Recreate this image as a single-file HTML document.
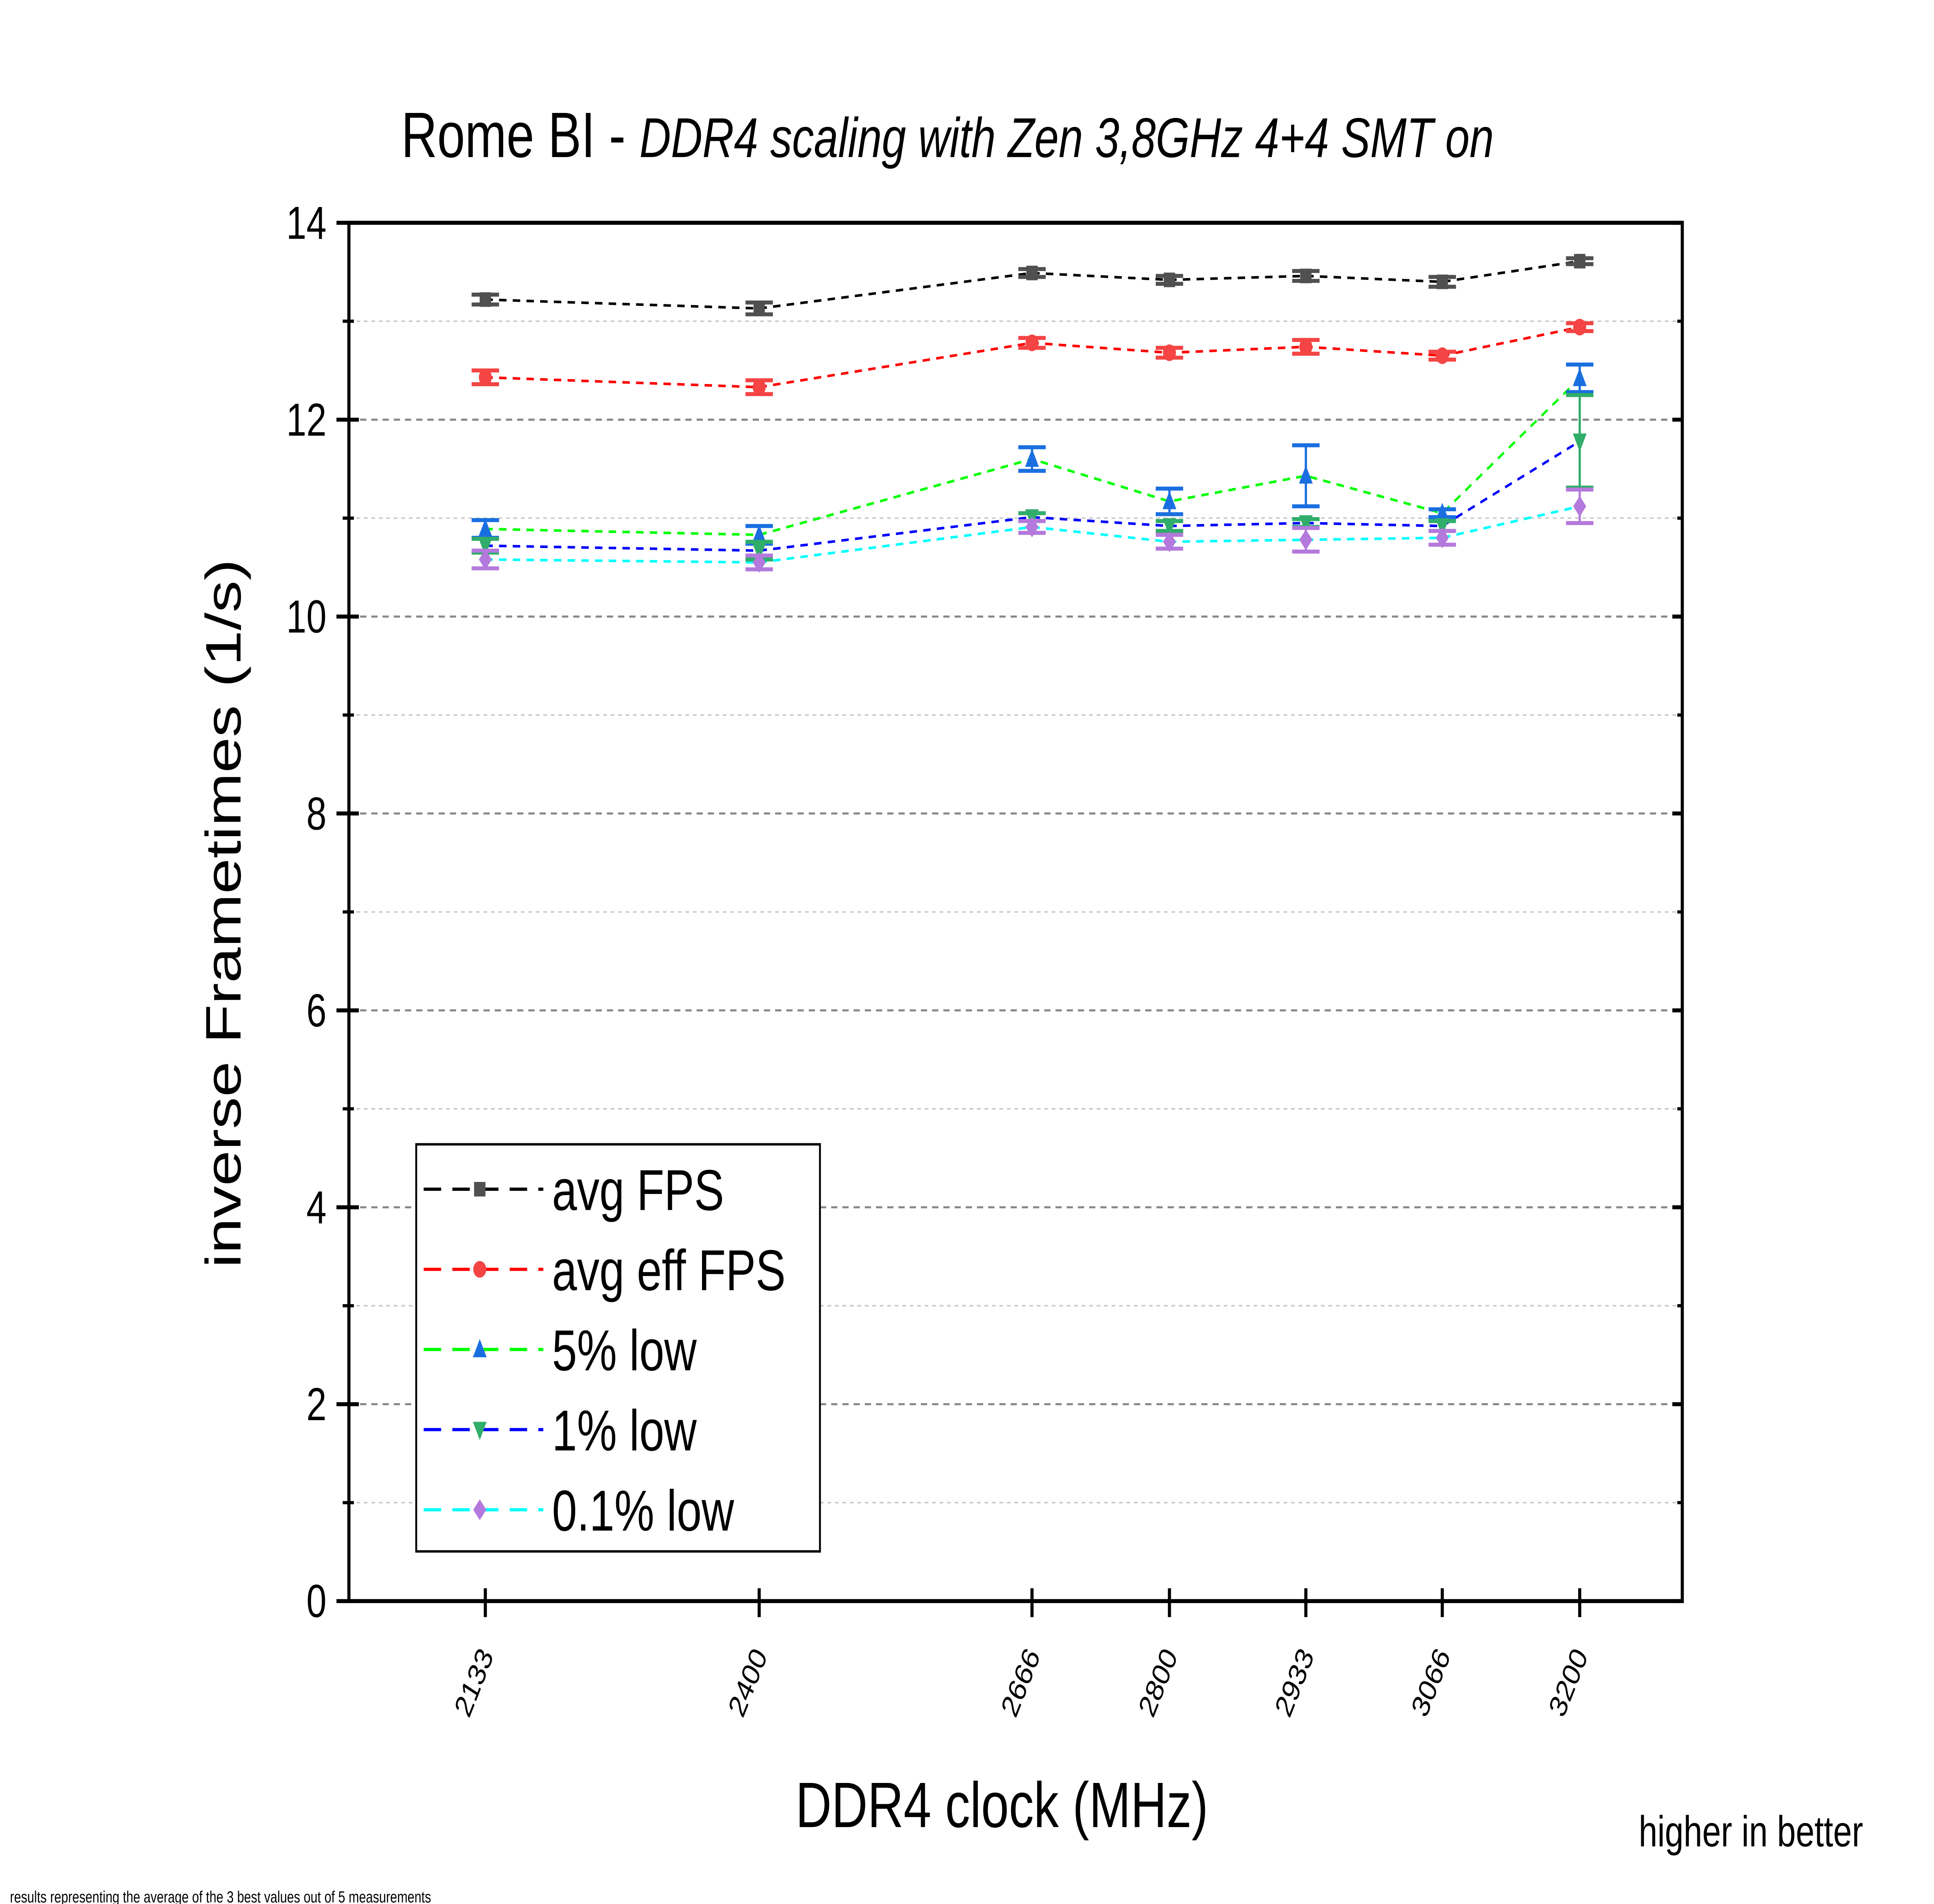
<!DOCTYPE html>
<html><head><meta charset="utf-8"><style>
html,body{margin:0;padding:0;background:#fff;width:100%;height:100%;overflow:hidden;}
svg{display:block;font-family:"Liberation Sans",Arial,sans-serif;width:100vw;height:100vh;}
</style></head><body>
<svg id="chart" viewBox="0 0 1552 1188" preserveAspectRatio="none" xmlns="http://www.w3.org/2000/svg">
<rect width="1552" height="1188" fill="#fff"/>
<text x="322" y="98" font-size="40">Rome BI - <tspan font-style="italic" font-size="35">DDR4 scaling with Zen 3,8GHz 4+4 SMT on</tspan></text>
<g id="grid"></g>
<g id="series"></g>
<rect x="280" y="139" width="1070" height="860" fill="none" stroke="#000" stroke-width="2.5"/>
<g id="axes"></g>
<text transform="translate(193,570) rotate(-90)" text-anchor="middle" font-size="40">inverse Frametimes (1/s)</text>
<text x="804" y="1140" text-anchor="middle" font-size="40">DDR4 clock (MHz)</text>
<text x="1315" y="1152" font-size="27">higher in better</text>
<text x="8" y="1187" font-size="10">results representing the average of the 3 best values out of 5 measurements</text>
<g id="legend"></g>
<script>
const categories = [2133, 2400, 2666, 2800, 2933, 3066, 3200];
const avgFps = [13.22, 13.13, 13.49, 13.42, 13.46, 13.40, 13.61];
const avgFpsErr = [0.05, 0.06, 0.04, 0.04, 0.05, 0.05, 0.03];
const avgEffFps = [12.43, 12.33, 12.78, 12.68, 12.74, 12.65, 12.94];
const avgEffFpsErr = [0.07, 0.07, 0.05, 0.05, 0.07, 0.04, 0.04];
const low5 = [10.89, 10.83, 11.60, 11.17, 11.43, 11.05, 12.42];
const low5Err = [0.09, 0.09, 0.12, 0.13, 0.31, 0.04, 0.14];
const low1 = [10.72, 10.67, 11.01, 10.92, 10.95, 10.92, 11.78];
const low1Err = [0.07, 0.09, 0.04, 0.05, 0.04, 0.05, 0.47];
const low01 = [10.58, 10.55, 10.91, 10.76, 10.78, 10.80, 11.12];
const low01Err = [0.09, 0.07, 0.06, 0.07, 0.12, 0.07, 0.17];
const yTicks = [0, 2, 4, 6, 8, 10, 12, 14];
const seriesNames = ["avg FPS", "avg eff FPS", "5% low", "1% low", "0.1% low"];

const NS = "http://www.w3.org/2000/svg";
const X0 = 280, X1 = 1350, Y0 = 999, Y1 = 139;
const xMin = 2000, xMax = 3300, yMin = 0, yMax = 14;
function xs(v){ return X0 + (v - xMin) / (xMax - xMin) * (X1 - X0); }
function ys(v){ return Y0 - (v - yMin) / (yMax - yMin) * (Y0 - Y1); }
function mk(tag, attrs, parent){
  const e = document.createElementNS(NS, tag);
  for (const k in attrs) e.setAttribute(k, attrs[k]);
  parent.appendChild(e); return e;
}
const grid = document.getElementById('grid');
const axes = document.getElementById('axes');
const series = document.getElementById('series');
const legend = document.getElementById('legend');

for (let v = 1; v < 14; v++) {
  const major = v % 2 === 0;
  const l = mk('line', {x1:X0, x2:X1, y1:ys(v), y2:ys(v), stroke: major ? '#888' : '#ccc', 'stroke-width': major ? 1.3 : 1, 'stroke-dasharray': major ? '5,4' : '3,3'}, grid);
  
  
}
yTicks.forEach(v => {
  const y = ys(v);
  const t1 = mk('line', {x1:X0-10, x2:X0+8, y1:y, y2:y, stroke:'#000', 'stroke-width':2.5}, axes);
  
  
  const t2 = mk('line', {x1:X1-8, x2:X1, y1:y, y2:y, stroke:'#000', 'stroke-width':2.5}, axes);
  
  
  const tx = mk('text', {x:X0-18, y:y+10, 'text-anchor':'end', 'font-size':29}, axes);
  tx.textContent = v;
  
  
});
for (let v = 1; v < 14; v += 2) {
  const y = ys(v);
  const m = mk('line', {x1:X0-5, x2:X0+4, y1:y, y2:y, stroke:'#000', 'stroke-width':2}, axes);
  
  
  const m2 = mk('line', {x1:X1-4, x2:X1, y1:y, y2:y, stroke:'#000', 'stroke-width':2}, axes);
  
  
}
categories.forEach(c => {
  const x = xs(c);
  const t = mk('line', {x1:x, x2:x, y1:Y0-8, y2:Y0+10, stroke:'#000', 'stroke-width':2.5}, axes);
  
  
  const tx = mk('text', {x:0, y:0, 'text-anchor':'end', 'font-size':20, transform:`translate(${x+7},${Y0+34}) rotate(-63)`}, axes);
  tx.textContent = c;
  
  
});

const defs = [
  {vals:avgFps, err:avgFpsErr, line:'#000', mcol:'#505050', shape:'square', name:'avg-fps'},
  {vals:avgEffFps, err:avgEffFpsErr, line:'#ff0000', mcol:'#f44444', shape:'circle', name:'avg-eff-fps'},
  {vals:low5, err:low5Err, line:'#00ff00', mcol:'#1a6fe0', shape:'up', name:'5pct-low'},
  {vals:low1, err:low1Err, line:'#0000ff', mcol:'#30ad6a', shape:'down', name:'1pct-low'},
  {vals:low01, err:low01Err, line:'#00ffff', mcol:'#b479dc', shape:'diamond', name:'0.1pct-low'}
];
function marker(shape, x, y, col, parent, s){
  let e;
  if (shape === 'square') e = mk('rect', {x:x-s*0.7, y:y-s*0.7, width:s*1.4, height:s*1.4, fill:col}, parent);
  else if (shape === 'circle') e = mk('circle', {cx:x, cy:y, r:s*0.8, fill:col}, parent);
  else if (shape === 'up') e = mk('polygon', {points:`${x},${y-s} ${x-s*0.85},${y+s*0.75} ${x+s*0.85},${y+s*0.75}`, fill:col}, parent);
  else if (shape === 'down') e = mk('polygon', {points:`${x},${y+s} ${x-s*0.85},${y-s*0.75} ${x+s*0.85},${y-s*0.75}`, fill:col}, parent);
  else e = mk('polygon', {points:`${x},${y-s} ${x+s*0.8},${y} ${x},${y+s} ${x-s*0.8},${y}`, fill:col}, parent);
  return e;
}
defs.forEach(d => {
  const pts = d.vals.map((v,i) => xs(categories[i]) + ',' + ys(v)).join(' ');
  const pl = mk('polyline', {points:pts, fill:'none', stroke:d.line, 'stroke-width':1.6, 'stroke-dasharray':'6,5'}, series);
  
  
});
defs.forEach(d => {
  d.vals.forEach((v,i) => {
    const x = xs(categories[i]);
    const g = mk('g', {}, series);
    
    
    const yt = ys(v + d.err[i]), yb = ys(v - d.err[i]);
    mk('line', {x1:x, x2:x, y1:yt, y2:yb, stroke:d.mcol, 'stroke-width':1.8}, g);
    mk('line', {x1:x-11, x2:x+11, y1:yt, y2:yt, stroke:d.mcol, 'stroke-width':2.5}, g);
    mk('line', {x1:x-11, x2:x+11, y1:yb, y2:yb, stroke:d.mcol, 'stroke-width':2.5}, g);
    marker(d.shape, x, ys(v), d.mcol, g, 6.5);
  });
});
const lb = mk('rect', {x:334, y:714, width:324, height:254, fill:'#fff', stroke:'#000', 'stroke-width':1.5}, legend);


defs.forEach((d,i) => {
  const y = 742 + i*50;
  const g = mk('g', {}, legend);
  
  
  mk('line', {x1:340, x2:436, y1:y, y2:y, stroke:d.line, 'stroke-width':2, 'stroke-dasharray':'14,9'}, g);
  marker(d.shape, 385, y, d.mcol, g, 6.5);
  const t = mk('text', {x:443, y:y+13, 'font-size':36}, g);
  t.textContent = seriesNames[i];
});
</script>
</svg>
</body></html>
